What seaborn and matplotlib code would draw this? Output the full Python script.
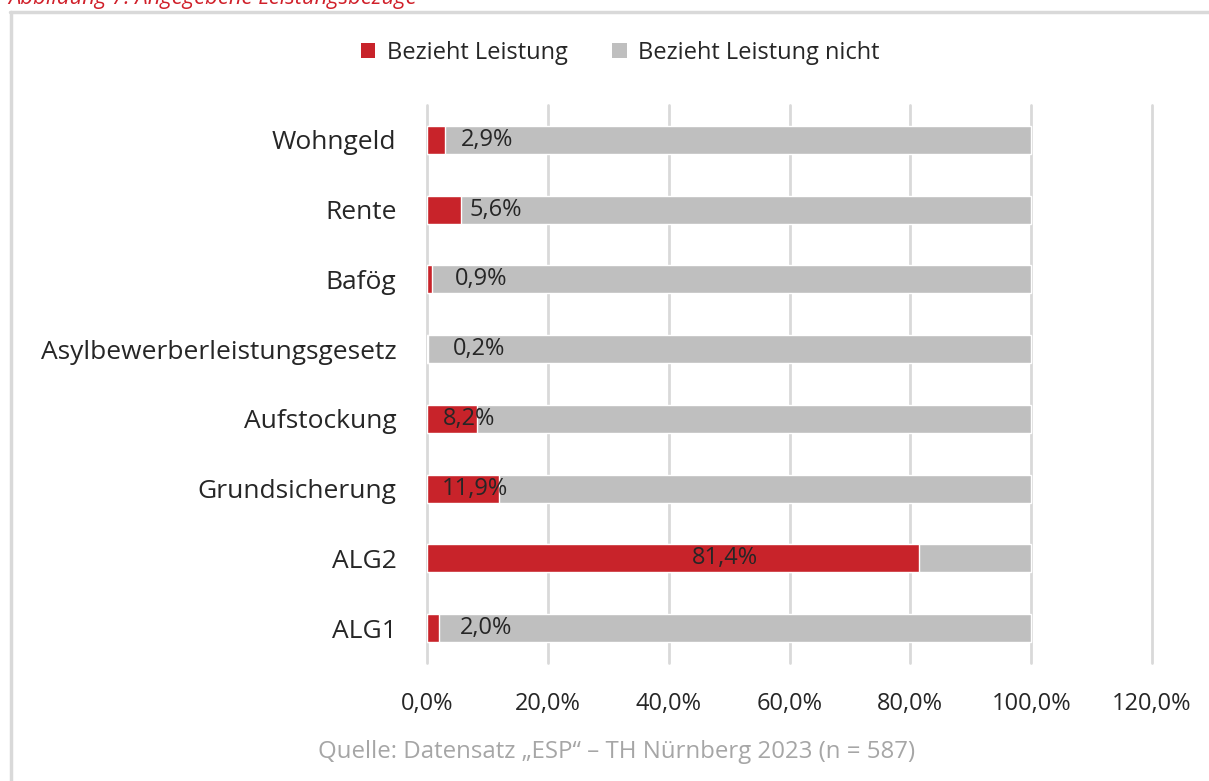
import matplotlib
matplotlib.use("Agg")
from matplotlib import pyplot as plt
from matplotlib.patches import Patch
from matplotlib.lines import Line2D
import matplotlib.ticker as mticker
import seaborn as sns
import pandas as pd

# data
categories = ["Wohngeld", "Rente", "Bafög", "Asylbewerberleistungsgesetz",
              "Aufstockung", "Grundsicherung", "ALG2", "ALG1"]
bezieht = [2.9, 5.6, 0.9, 0.2, 8.2, 11.9, 81.4, 2.0]
bezieht_nicht = [100 - v for v in bezieht]
xticks = [0, 20, 40, 60, 80, 100, 120]
series_names = ["Bezieht Leistung", "Bezieht Leistung nicht"]

# where excel put the data labels (x in percent)
label_pos = [10.0, 11.4, 8.9, 8.6, 7.0, 7.9, 49.3, 9.8]

RED = "#C8232A"
GREY = "#BFBFBF"
GRID = "#D9D9D9"
TXT = "#262626"

df = pd.DataFrame({"kat": categories, "ja": bezieht, "nein": bezieht_nicht})
df["gesamt"] = df["ja"] + df["nein"]

sns.set_theme(style="white")
plt.rcParams["font.family"] = ["Open Sans", "DejaVu Sans"]

fig = plt.figure(figsize=(12.09, 7.81), dpi=100)
ax = fig.add_axes([427 / 1209, 1 - 663 / 781, 725 / 1209, 558 / 781])

# stacked bars: grey total behind, red share on top
sns.barplot(data=df, x="gesamt", y="kat", orient="h", color=GREY,
            width=0.4, saturation=1, ax=ax, zorder=2)
sns.barplot(data=df, x="ja", y="kat", orient="h", color=RED,
            width=0.4, saturation=1, ax=ax, zorder=3)

for i, (v, p) in enumerate(zip(bezieht, label_pos)):
    ax.text(p, i, "{:.1f}%".format(v).replace(".", ","), ha="center",
            va="center", fontsize=17, color=TXT, zorder=4)

ax.set_xlim(0, 120)
ax.set_ylim(7.5, -0.5)
ax.set_xticks(xticks)
ax.xaxis.set_major_formatter(mticker.FuncFormatter(
    lambda x, pos: "{:.1f}%".format(x).replace(".", ",")))
ax.grid(axis="x", color=GRID, linewidth=2, zorder=0)
ax.grid(axis="y", visible=False)
ax.set_axisbelow(True)
for sp in ax.spines.values():
    sp.set_visible(False)
ax.set(xlabel="", ylabel="")
ax.tick_params(axis="y", length=0, pad=22, labelsize=19, labelcolor=TXT)
ax.tick_params(axis="x", length=0, pad=21, labelsize=17, labelcolor=TXT)
for gl in ax.get_xgridlines():
    gl.set_clip_on(False)

# legend on top
handles = [Patch(facecolor=RED, edgecolor="none"),
           Patch(facecolor=GREY, edgecolor="none")]
fig.legend(handles, series_names, loc="center", bbox_to_anchor=(0.513, 0.932),
           ncol=2, frameon=False, fontsize=17, handlelength=0.6,
           handleheight=0.6, handletextpad=0.5, columnspacing=1.9,
           labelcolor=TXT)

# figure caption (cut off at the top in the original) and source
fig.text(8 / 1209, 1 - 4 / 781, "Abbildung 7: Angegebene Leistungsbezüge",
         color="#D0202A", fontsize=15.8, style="italic", va="baseline")
fig.text(0.51, 1 - 752 / 781, "Quelle: Datensatz „ESP“ – TH Nürnberg 2023 (n = 587)",
         color="#A6A6A6", fontsize=17.3, ha="center", va="center")

# light frame around the chart
fig.add_artist(Line2D([10 / 1209, 1], [1 - 12 / 781, 1 - 12 / 781],
                      color=GRID, linewidth=2.5))
fig.add_artist(Line2D([11 / 1209, 11 / 1209], [0, 1 - 12 / 781],
                      color=GRID, linewidth=2.5))

fig.savefig("out.png", dpi=100)
